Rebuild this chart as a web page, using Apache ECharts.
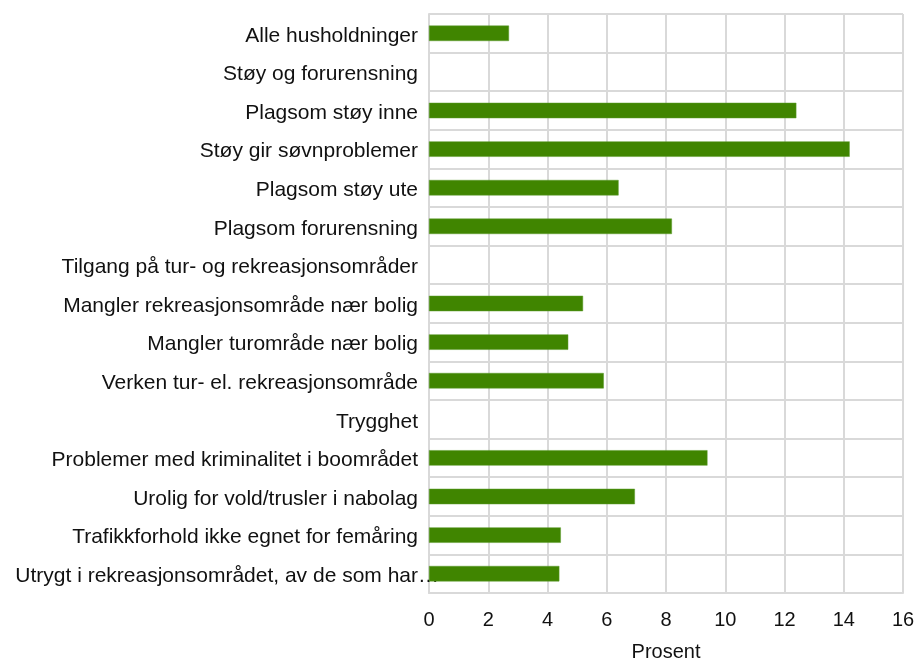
<!DOCTYPE html>
<html>
<head>
<meta charset="utf-8">
<script src="https://cdn.jsdelivr.net/npm/echarts@6/dist/echarts.min.js"></script>
<style>
  html, body { margin: 0; padding: 0; background: #fff; }
  #chart { width: 915px; height: 659px; }
</style>
</head>
<body>
<div id="chart"></div>
<script>
// Kategorier (ovenfra og ned) og andel i prosent; tomme verdier er overskrifter
const categories = [
  'Alle husholdninger',
  'Støy og forurensning',
  'Plagsom støy inne',
  'Støy gir søvnproblemer',
  'Plagsom støy ute',
  'Plagsom forurensning',
  'Tilgang på tur- og rekreasjonsområder',
  'Mangler rekreasjonsområde nær bolig',
  'Mangler turområde nær bolig',
  'Verken tur- el. rekreasjonsområde',
  'Trygghet',
  'Problemer med kriminalitet i boområdet',
  'Urolig for vold/trusler i nabolag',
  'Trafikkforhold ikke egnet for femåring',
  'Utrygt i rekreasjonsområdet, av de som har…'
];
const values = [2.7, null, 12.4, 14.2, 6.4, 8.2, null, 5.2, 4.7, 5.9, null, 9.4, 6.95, 4.45, 4.4];
const xTicks = [0, 2, 4, 6, 8, 10, 12, 14, 16];

const gridColor = '#d9d9d9';
const textColor = '#111';
const font = 'Liberation Sans, Arial, sans-serif';

// Avkortede etiketter: teksten høyrejusteres, og ellipsen får henge utenfor
function categoryLabel(name) {
  if (name.endsWith('…')) {
    return '{t|' + name.slice(0, -1) + '}{e|…}';
  }
  return '{t|' + name + '}';
}

const chart = echarts.init(document.getElementById('chart'));
chart.setOption({
  animation: false,
  grid: {
    left: 429, right: 12, top: 14, bottom: 66,
    containLabel: false,
    outerBoundsMode: 'none'
  },
  xAxis: {
    type: 'value',
    min: xTicks[0],
    max: xTicks[xTicks.length - 1],
    interval: 2,
    name: 'Prosent',
    nameLocation: 'middle',
    nameGap: 49,
    nameTextStyle: { fontFamily: font, fontSize: 20, color: textColor },
    axisLine: { show: true, lineStyle: { color: gridColor, width: 2 } },
    axisTick: { show: false },
    axisLabel: { fontFamily: font, fontSize: 20, color: textColor, margin: 17 },
    splitLine: { show: true, lineStyle: { color: gridColor, width: 2 } }
  },
  yAxis: {
    type: 'category',
    inverse: true,
    data: categories,
    axisLine: { show: true, lineStyle: { color: gridColor, width: 2 } },
    axisTick: { show: false },
    axisLabel: {
      margin: 11,
      formatter: categoryLabel,
      rich: {
        t: { fontFamily: font, fontSize: 21, color: textColor, align: 'left', padding: [5, 0, 0, 0] },
        e: { fontFamily: font, fontSize: 21, color: textColor, align: 'left', width: 0, padding: [5, 0, 0, 0] }
      }
    },
    splitLine: { show: true, lineStyle: { color: gridColor, width: 2 } }
  },
  series: [{
    type: 'bar',
    data: values,
    barWidth: '40%',
    itemStyle: { color: '#408500', borderColor: '#5a9a2a', borderWidth: 0.5 }
  }]
});
</script>
</body>
</html>
